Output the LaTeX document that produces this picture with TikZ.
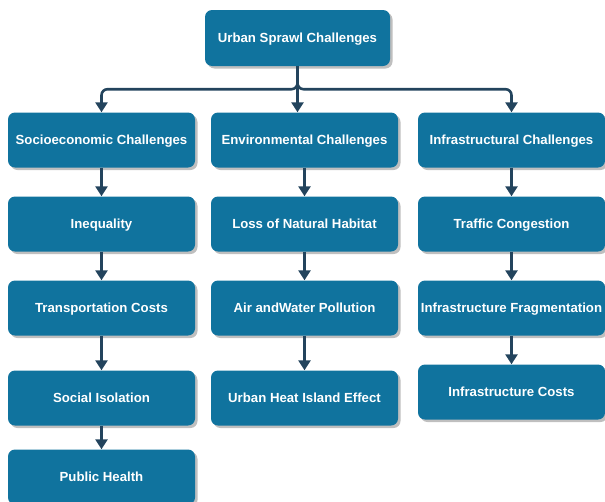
\documentclass[tikz,border=0pt]{standalone}
\usepackage{fontspec}
\setmainfont{Liberation Sans}
\usetikzlibrary{arrows.meta,positioning,shadows}
\definecolor{boxblue}{HTML}{10739E}
\definecolor{navy}{HTML}{23445D}
\tikzset{
  topic/.style={rectangle,rounded corners=7pt,draw=none,fill=boxblue,text=white,align=center,
    minimum width=187pt,minimum height=55pt,inner sep=2pt,text height=9.5pt,text depth=0pt,
    font=\fontsize{13.2}{15}\selectfont\bfseries,
    drop shadow={shadow xshift=2.5pt,shadow yshift=-2.5pt,fill=black,opacity=0.25}},
  arrow/.style={-{Triangle[width=12pt,length=10pt]},line width=2.6pt,navy},
  bus/.style={arrow,rounded corners=6pt}
}

\begin{document}
\begin{tikzpicture}[x=1pt,y=-1pt]
  \useasboundingbox (0,0) rectangle (605,501);
  % root
  \node[topic,minimum width=185pt,minimum height=56pt] (root) at (297.5,38) {Urban Sprawl Challenges};
  % three branches
  \node[topic] (socio) at (101.5,140) {Socioeconomic Challenges};
  \node[topic] (env) at (304.5,140) {Environmental Challenges};
  \node[topic] (infra) at (511.5,140) {Infrastructural Challenges};
  % socioeconomic column
  \node[topic] (ineq) at (101.5,224) {Inequality};
  \node[topic] (transp) at (101.5,308) {Transportation Costs};
  \node[topic] (isol) at (101.5,398) {Social Isolation};
  \node[topic] (health) at (101.5,477) {Public Health};
  % environmental column
  \node[topic] (habitat) at (304.5,224) {Loss of Natural Habitat};
  \node[topic] (pollution) at (304.5,308) {Air andWater Pollution};
  \node[topic] (heat) at (304.5,398) {Urban Heat Island Effect};
  % infrastructural column
  \node[topic] (traffic) at (511.5,224) {Traffic Congestion};
  \node[topic] (frag) at (511.5,308) {Infrastructure Fragmentation};
  \node[topic] (costs) at (511.5,392) {Infrastructure Costs};

  \draw[bus] (root.south) -- ++(0,23) -| (socio.north);
  \draw[bus] (root.south) -- ++(0,23) -| (infra.north);
  \draw[arrow] (root.south) -- (root.south |- env.north);

  \draw[arrow] (socio) -- (ineq);
  \draw[arrow] (ineq) -- (transp);
  \draw[arrow] (transp) -- (isol);
  \draw[arrow] (isol) -- (health);
  \draw[arrow] (env) -- (habitat);
  \draw[arrow] (habitat) -- (pollution);
  \draw[arrow] (pollution) -- (heat);
  \draw[arrow] (infra) -- (traffic);
  \draw[arrow] (traffic) -- (frag);
  \draw[arrow] (frag) -- (costs);
\end{tikzpicture}
\end{document}
